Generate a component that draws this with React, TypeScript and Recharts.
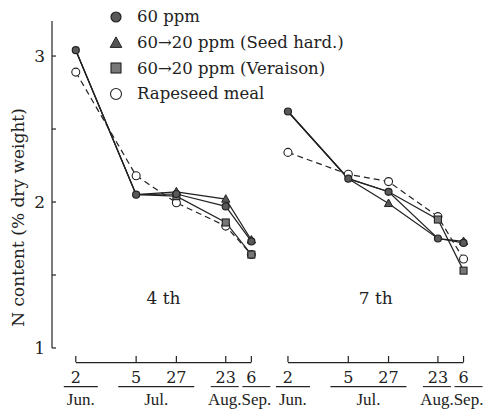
import React from 'react';
import { LineChart, Line, XAxis, YAxis, ReferenceLine, ReferenceDot, Legend } from 'recharts';

// Sampling dates, counted in days after 2 June
const sampleDays = [0, 33, 55, 82, 96];
const dayLabels = ['2', '5', '27', '23', '6'];
const monthLabels = ['Jun.', 'Jul.', 'Jul.', 'Aug.', 'Sep.'];
// the 7th-leaf panel is drawn this many days to the right of the 4th-leaf panel
const panelGap = 116;
const panelNames = ['4 th', '7 th'];

// N content (% dry weight), 4th leaf
const ppm60Leaf4 = [3.04, 2.05, 2.055, 1.97, 1.73];
const seedHardLeaf4 = [3.04, 2.05, 2.07, 2.02, 1.74];
const veraisonLeaf4 = [3.04, 2.05, 2.04, 1.86, 1.64];
const rapeseedLeaf4 = [2.89, 2.18, 1.995, 1.835, 1.64];

// N content (% dry weight), 7th leaf
const ppm60Leaf7 = [2.62, 2.16, 2.07, 1.75, 1.72];
const seedHardLeaf7 = [2.62, 2.16, 1.99, 1.75, 1.73];
const veraisonLeaf7 = [2.62, 2.16, 2.07, 1.88, 1.53];
const rapeseedLeaf7 = [2.34, 2.19, 2.14, 1.9, 1.61];

const yTicks = [1, 1.5, 2, 2.5, 3];

const FONT = '"DejaVu Serif", serif';
const NARROW_FONT = '"Liberation Serif", serif';
const INK = '#222';
const X_DOMAIN: [number, number] = [-13, 221];
const Y_DOMAIN: [number, number] = [1, 3.24];
const AXIS_LEVEL = 0.9; // value level where the date axes are ruled
const PANEL_LABEL_LEVEL = 1.34;

type Shape = 'circle' | 'triangle' | 'square' | 'open';

// drawn in this order; later entries sit on top
const series: { name: string; shape: Shape; dashed: boolean; leaf4: number[]; leaf7: number[] }[] = [
  { name: 'Rapeseed meal', shape: 'open', dashed: true, leaf4: rapeseedLeaf4, leaf7: rapeseedLeaf7 },
  { name: '60→20 ppm (Veraison)', shape: 'square', dashed: false, leaf4: veraisonLeaf4, leaf7: veraisonLeaf7 },
  { name: '60→20 ppm (Seed hard.)', shape: 'triangle', dashed: false, leaf4: seedHardLeaf4, leaf7: seedHardLeaf7 },
  { name: '60 ppm', shape: 'circle', dashed: false, leaf4: ppm60Leaf4, leaf7: ppm60Leaf7 },
];
const legendOrder = ['60 ppm', '60→20 ppm (Seed hard.)', '60→20 ppm (Veraison)', 'Rapeseed meal'];
const controlByPanel = [ppm60Leaf4, ppm60Leaf7];

const toRows = (values: number[], panel: number) =>
  sampleDays.map((d, i) => ({ x: d + panel * panelGap, v: values[i] }));

const dayTicks = [0, 1].flatMap((p) => sampleDays.map((d) => d + p * panelGap));

// month labels sit at the mean of the sampling days of that month
const monthGroups: { label: string; center: number; count: number }[] = [];
[0, 1].forEach((p) => {
  const seen: Record<string, number[]> = {};
  const order: string[] = [];
  sampleDays.forEach((d, i) => {
    const m = monthLabels[i];
    if (!seen[m]) {
      seen[m] = [];
      order.push(m);
    }
    seen[m].push(d + p * panelGap);
  });
  order.forEach((m) => {
    const arr = seen[m];
    monthGroups.push({ label: m, center: arr.reduce((a, b) => a + b, 0) / arr.length, count: arr.length });
  });
});

function Marker({ shape, cx, cy, r }: { shape: Shape; cx: number; cy: number; r: number }) {
  if (shape === 'circle')
    return <circle cx={cx} cy={cy} r={r} fill="#5a5a5a" stroke={INK} strokeWidth={1.2} />;
  if (shape === 'open') return <circle cx={cx} cy={cy} r={r + 0.5} fill="#fff" stroke={INK} strokeWidth={1.1} />;
  if (shape === 'triangle') {
    const h = r * 1.1;
    return (
      <polygon
        points={`${cx},${cy - h - 0.6} ${cx - h - 0.3},${cy + h * 0.8} ${cx + h + 0.3},${cy + h * 0.8}`}
        fill="#555"
        stroke={INK}
        strokeWidth={1}
      />
    );
  }
  return (
    <rect x={cx - r} y={cy - r} width={r * 2} height={r * 2} fill="#777" stroke={INK} strokeWidth={1.1} />
  );
}

// treatment markers that coincide with the 60 ppm control are left to the control's marker
const makeDot = (shape: Shape, panel: number) => (props: any) => {
  const { cx, cy, index, value } = props;
  const v = Array.isArray(value) ? value[1] : value;
  const hidden =
    (shape === 'square' || shape === 'triangle') && v === controlByPanel[panel][index];
  if (cx == null || cy == null || hidden) return <g key={index} />;
  return <Marker key={index} shape={shape} cx={cx} cy={cy} r={3.5} />;
};

function YTick(props: any) {
  const { x, y, payload } = props;
  const v = payload.value as number;
  return (
    <g>
      <line x1={x + 7} x2={x + 11} y1={y} y2={y} stroke={INK} strokeWidth={1.2} />
      {Number.isInteger(v) && (
        <text x={x} y={y} dy={6} textAnchor="end" fontSize={17} fontFamily={FONT} fill={INK}>
          {v}
        </text>
      )}
    </g>
  );
}

function DayTick(props: any) {
  const { x, y, payload } = props;
  const idx = dayTicks.indexOf(payload.value);
  const label = dayLabels[idx % sampleDays.length];
  return (
    <g>
      <line x1={x} x2={x} y1={y + 8} y2={y + 14} stroke={INK} strokeWidth={1.2} />
      <text x={x} y={y + 35} textAnchor="middle" fontSize={16} fontFamily={FONT} fill={INK}>
        {label}
      </text>
    </g>
  );
}

// month name under a rule, hung below the date axis
function MonthLabel(props: any) {
  const { viewBox, label, count } = props;
  const x = viewBox.x + viewBox.width / 2;
  const y = viewBox.y + viewBox.height / 2;
  const half = count > 1 ? 38 : label === 'Jun.' ? 17 : 14;
  const shift = count > 1 ? 0 : label === 'Aug.' ? -1 : 5;
  return (
    <g>
      <line x1={x + shift - half} x2={x + shift + half} y1={y + 24} y2={y + 24} stroke={INK} strokeWidth={1.1} />
      <text x={x + shift} y={y + 42} textAnchor="middle" fontSize={17} fontFamily={NARROW_FONT} fill={INK}>
        {label}
      </text>
    </g>
  );
}

function YTitle(props: any) {
  const { viewBox } = props;
  const cy = viewBox.y + viewBox.height / 2 + 33;
  return (
    <text
      x={18}
      y={cy}
      transform={`rotate(-90, 18, ${cy})`}
      textAnchor="middle"
      dominantBaseline="central"
      fontSize={17}
      fontFamily={FONT}
      fill={INK}
    >
      N content (% dry weight)
    </text>
  );
}

function LegendBox() {
  return (
    <div style={{ fontFamily: FONT, fontSize: 16.5, color: INK }}>
      {legendOrder.map((name) => {
        const s = series.find((q) => q.name === name)!;
        return (
          <div key={name} style={{ display: 'flex', alignItems: 'center', height: 25.7 }}>
            <svg width={20} height={20} style={{ marginRight: 11 }}>
              <Marker shape={s.shape} cx={10} cy={10} r={5} />
            </svg>
            <span style={{ whiteSpace: 'nowrap' }}>{name}</span>
          </div>
        );
      })}
    </div>
  );
}

export default function App() {
  return (
    <div style={{ position: 'absolute', left: 0, top: 0, background: '#fff' }}>
      <LineChart width={490} height={409} margin={{ top: 21, right: 10, bottom: 0, left: 0 }}>
        <XAxis
          type="number"
          dataKey="x"
          domain={X_DOMAIN}
          ticks={dayTicks}
          interval={0}
          axisLine={false}
          tickLine={false}
          tickSize={0}
          tickMargin={0}
          height={61}
          tick={<DayTick />}
        />
        <YAxis
          type="number"
          domain={Y_DOMAIN}
          ticks={yTicks}
          interval={0}
          width={52}
          tickSize={0}
          tickMargin={7}
          tickLine={false}
          axisLine={{ stroke: INK, strokeWidth: 1.2 }}
          tick={<YTick />}
          label={<YTitle />}
        />
        {[0, 1].map((p) => (
          <ReferenceLine
            key={`axis-${p}`}
            segment={[
              { x: sampleDays[0] + p * panelGap, y: AXIS_LEVEL },
              { x: sampleDays[sampleDays.length - 1] + p * panelGap, y: AXIS_LEVEL },
            ]}
            ifOverflow="visible"
            stroke={INK}
            strokeWidth={1.2}
          />
        ))}
        {monthGroups.map((g, i) => (
          <ReferenceDot
            key={`month-${i}`}
            x={g.center}
            y={AXIS_LEVEL}
            r={1}
            fill="none"
            stroke="none"
            ifOverflow="visible"
            label={<MonthLabel label={g.label} count={g.count} />}
          />
        ))}
        {[0, 1].map((p) => (
          <ReferenceDot
            key={`panel-${p}`}
            x={(sampleDays[0] + sampleDays[sampleDays.length - 1]) / 2 + p * panelGap}
            y={PANEL_LABEL_LEVEL}
            r={1}
            fill="none"
            stroke="none"
            label={{ value: panelNames[p], position: 'center', fontSize: 17, fontFamily: FONT, fill: INK }}
          />
        ))}
        {[0, 1].flatMap((p) =>
          series.map((s) => (
            <Line
              key={`${s.name}-${p}`}
              name={`${s.name} ${panelNames[p]}`}
              data={toRows(p === 0 ? s.leaf4 : s.leaf7, p)}
              dataKey="v"
              stroke={INK}
              strokeWidth={1.2}
              strokeDasharray={s.dashed ? '6 4' : undefined}
              dot={makeDot(s.shape, p)}
              activeDot={false}
              legendType="none"
              isAnimationActive={false}
            />
          ))
        )}
        <Legend
          layout="vertical"
          align="center"
          verticalAlign="middle"
          content={<LegendBox />}
          wrapperStyle={{ top: 4, left: 106, width: 300 }}
        />
      </LineChart>
    </div>
  );
}
